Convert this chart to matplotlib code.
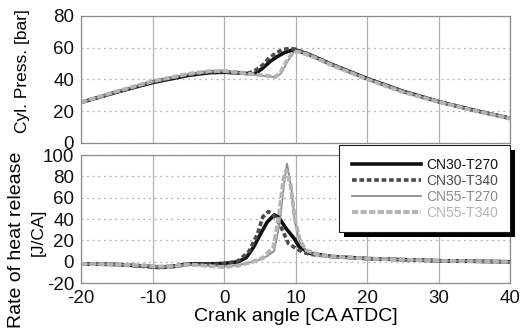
import matplotlib
matplotlib.use("Agg")
import matplotlib.pyplot as plt
from matplotlib.patches import Rectangle

plt.rcParams['font.family'] = ['Liberation Sans', 'DejaVu Sans']
plt.rcParams['axes.unicode_minus'] = False

labels = ["CN30-T270", "CN30-T340", "CN55-T270", "CN55-T340"]
colors = ["#111111", "#4a4a4a", "#8a8a8a", "#b4b4b4"]
styles = ["-", (0, (1.3, 0.75)), "-", (0, (1.6, 0.6))]
widths = [2.6, 2.6, 1.3, 2.8]

# Cylinder pressure [bar]
p_x = {
    "CN30-T270": [-20, -15, -10, -5, -2, 0, 2, 4, 4.5, 5.5, 6.5, 7.5, 8.5, 9.5, 10, 12, 15, 20, 25, 30, 35, 40],
    "CN30-T340": [-20, -15, -10, -5, -2, 0, 2, 3.5, 4.5, 5.4, 6.3, 7.3, 8.2, 9.2, 10, 12, 15, 20, 25, 30, 35, 40],
    "CN55-T270": [-20, -15, -10, -5, -2, 0, 2, 4, 6, 7.3, 8.0, 8.9, 9.8, 10.3, 12, 15, 20, 25, 30, 35, 40],
    "CN55-T340": [-20, -15, -10, -5, -2, 0, 2, 4, 6, 7.2, 7.9, 8.8, 9.7, 10.3, 12, 15, 20, 25, 30, 35, 40],
}
p_y = {
    "CN30-T270": [25.5, 32, 38, 42.5, 44.2, 44.5, 44, 43.5, 44, 47.5, 51.5, 54.5, 57, 58.3, 58.5, 55.5, 49.5, 40.5, 32.5, 26, 20.5, 15.5],
    "CN30-T340": [25.5, 32, 38.5, 43, 44.7, 45, 44.3, 44, 46, 49, 53.5, 56.7, 58.8, 59.5, 59, 55.5, 49.5, 40.5, 32.5, 26, 20.5, 15.5],
    "CN55-T270": [25.5, 32.5, 38.5, 43.2, 45, 45.2, 44.2, 43, 42, 41.3, 44, 51.5, 57.5, 58, 55.5, 49.3, 40.3, 32.3, 26, 20.5, 15.5],
    "CN55-T340": [25.5, 32.5, 38.8, 43.5, 45.2, 45.3, 44.3, 43.2, 42.2, 41.5, 44.5, 52, 57.2, 57.5, 55, 49, 40, 32, 25.8, 20.3, 15.3],
}

# Rate of heat release [J/CA]
h_x = {
    "CN30-T270": [-20, -15, -11, -9, -7, -5, -2, 0, 2, 3.1, 4.1, 5.0, 6.0, 7.0, 7.6, 8.7, 9.9, 10.5, 12, 15, 20, 25, 30, 40],
    "CN30-T340": [-20, -15, -11, -9, -7, -5, -2, 0, 2, 3.5, 4.7, 5.4, 6.2, 6.8, 7.8, 9.0, 10.2, 11, 12, 15, 20, 25, 30, 40],
    "CN55-T270": [-20, -15, -11, -9, -7, -5, -2, 0, 2, 4, 5.5, 7.0, 7.8, 8.4, 8.8, 9.4, 9.9, 10.6, 11.5, 13, 15, 20, 25, 30, 40],
    "CN55-T340": [-20, -15, -11, -9, -7, -5, -2, 0, 2, 4, 5.5, 6.9, 7.7, 8.3, 8.7, 9.3, 9.9, 10.6, 11.5, 13, 15, 20, 25, 30, 40],
}
h_y = {
    "CN30-T270": [-2, -2.5, -4, -5, -4, -2, -2, -1.5, 0, 4, 13.5, 25, 37, 44, 42, 31, 21, 14, 8, 5, 3, 2, 1, 0],
    "CN30-T340": [-2, -2.5, -4.5, -5.5, -4.5, -2.5, -2.5, -2, 1, 10, 26.7, 42, 47, 45, 35, 17, 12, 9, 7, 5, 3, 2, 1, 0],
    "CN55-T270": [-2, -2.5, -3.5, -4.5, -4, -2.5, -3.5, -4.5, -3, 0, 3, 10, 37, 74, 92, 69, 37, 18, 10, 6, 4, 3, 2, 1, 0],
    "CN55-T340": [-2, -2.5, -3.5, -4.5, -4, -2.5, -4, -5, -3.5, 0, 4, 14, 45, 78, 86, 72, 40, 20, 11, 7, 5, 3, 2, 1, 0],
}

x_ticks = [-20, -10, 0, 10, 20, 30, 40]
p_ticks = [0, 20, 40, 60, 80]
h_ticks = [-20, 0, 20, 40, 60, 80, 100]

fig = plt.figure(figsize=(5.2, 3.3), dpi=100)
ax1 = fig.add_axes([0.156, 0.567, 0.825, 0.385])
ax2 = fig.add_axes([0.156, 0.142, 0.825, 0.388])

tick_fs = 13.5
for ax in (ax1, ax2):
    ax.set_xlim(-20, 40)
    ax.set_xticks(x_ticks)
    for s in ax.spines.values():
        s.set_color("#8c8c8c")
        s.set_linewidth(0.9)
    ax.grid(axis="x", color="#b0b0b0", linewidth=0.9, linestyle="-")
    ax.grid(axis="y", color="#b0b0b0", linewidth=0.9, linestyle=(0, (1.5, 3)))
    ax.set_axisbelow(True)
    ax.tick_params(length=0, labelsize=tick_fs, pad=5, labelcolor="#111111")

ax1.set_ylim(0, 80)
ax1.set_yticks(p_ticks)
ax1.tick_params(labelbottom=False)
ax2.set_ylim(-20, 100)
ax2.set_yticks(h_ticks)

handles = []
for lab, c, ls, lw in zip(labels, colors, styles, widths):
    ax1.plot(p_x[lab], p_y[lab], color=c, linestyle=ls, linewidth=lw)
    h, = ax2.plot(h_x[lab], h_y[lab], color=c, linestyle=ls, linewidth=lw, label=lab)
    handles.append(h)

ax1.set_ylabel("Cyl. Press. [bar]", fontsize=12.5)
ax1.yaxis.set_label_coords(-0.119, 0.563)
ax2.set_ylabel("Rate of heat release", fontsize=14)
ax2.yaxis.set_label_coords(-0.1305, 0.336)
ax2.text(-0.101, 0.398, "[J/CA]", transform=ax2.transAxes, rotation=90,
         fontsize=12.5, ha="center", va="center")
ax2.set_xlabel("Crank angle [CA ATDC]", fontsize=14, labelpad=1)

leg = fig.legend(handles=handles, labels=labels, loc="upper left",
                 bbox_to_anchor=(339 / 520, 1 - 145 / 330),
                 fontsize=10, handlelength=5.0, handletextpad=0.35,
                 labelspacing=0.15, borderpad=0.9, borderaxespad=0.0,
                 frameon=True, fancybox=False)
leg.get_frame().set_edgecolor("#222222")
leg.get_frame().set_linewidth(0.8)
leg.get_frame().set_alpha(1.0)
for t, c in zip(leg.get_texts(), colors):
    t.set_color(c)

# solid black drop shadow behind the legend box
fig.canvas.draw()
bb = leg.get_window_extent()
W, H = fig.bbox.width, fig.bbox.height
off = 5
shadow = Rectangle(((bb.x0 + off) / W, (bb.y0 - off) / H), bb.width / W, bb.height / H,
                   transform=fig.transFigure, facecolor="black", edgecolor="none",
                   zorder=leg.get_zorder() - 0.1)
fig.add_artist(shadow)

fig.savefig("out.png", dpi=100)
